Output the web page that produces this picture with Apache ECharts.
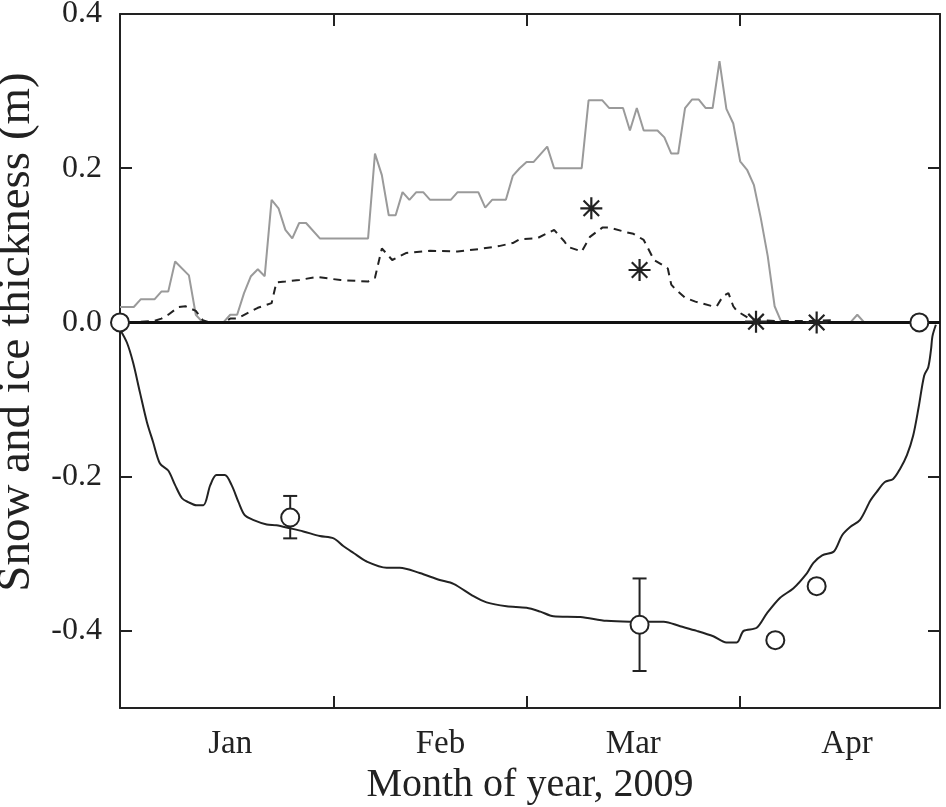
<!DOCTYPE html>
<html>
<head>
<meta charset="utf-8">
<script src="https://cdn.jsdelivr.net/npm/echarts@6/dist/echarts.min.js"></script>
<style>
  html, body { margin: 0; padding: 0; background: #fff; }
  #chart { width: 946px; height: 807px; }
</style>
</head>
<body>
<div id="chart"></div>
<script>
// day 0 = 1 Jan 2009
const monthStarts = [31, 59, 90];
const monthNames = ["Jan", "Feb", "Mar", "Apr"];
const monthLabelDays = [16, 46.5, 74.5, 105.5];
const yTicks = [-0.4, -0.2, 0, 0.2, 0.4];

// snow depth (grey)
const snowDepth = [
    [0, 0.02], [2, 0.02], [3, 0.03], [5, 0.03], [6, 0.04], [7, 0.04], [8, 0.079], [10, 0.061],
    [11, 0.01], [12, 0], [15, 0], [16, 0.01], [17, 0.01], [18, 0.038], [19, 0.06], [20, 0.069],
    [21, 0.06], [22, 0.159], [23, 0.148], [24, 0.12], [25, 0.109], [26, 0.129], [27, 0.129],
    [29, 0.109], [36, 0.109], [37, 0.219], [38, 0.191], [39, 0.139], [40, 0.139], [41, 0.169],
    [42, 0.159], [43, 0.169], [44, 0.169], [45, 0.159], [48, 0.159], [49, 0.169], [52, 0.169],
    [53, 0.149], [54, 0.159], [56, 0.159], [57, 0.19], [58, 0.2], [59, 0.208], [60, 0.208],
    [62, 0.228], [63, 0.2], [67, 0.2], [68, 0.288], [70, 0.288], [71, 0.278], [73, 0.278],
    [74, 0.249], [75, 0.278], [76, 0.249], [78, 0.249], [79, 0.24], [80, 0.219], [81, 0.219],
    [82, 0.278], [83, 0.289], [84, 0.289], [85, 0.278], [86, 0.278], [87, 0.339], [88, 0.277],
    [89, 0.258], [90, 0.209], [91, 0.198], [92, 0.178], [93, 0.135], [94, 0.086], [95, 0.021],
    [96, 0], [106, 0], [107, 0.01], [108, 0], [110, 0]
];

// snow ice (dashed)
const snowIce = [
    [1, 0], [5, 0.002], [6, 0.005], [7, 0.01], [8.5, 0.02], [9.5, 0.021], [11, 0.015], [12, 0.003],
    [13, 0], [15, 0], [16, 0.005], [17, 0.005], [18.5, 0.012], [20, 0.019], [22, 0.025],
    [22.7, 0.052], [24, 0.053], [26, 0.055], [28.5, 0.059], [32, 0.055], [36, 0.053], [37, 0.058],
    [38, 0.096], [39.5, 0.081], [41.5, 0.09], [45, 0.093], [49, 0.092], [52, 0.095], [55, 0.099],
    [57, 0.103], [58, 0.108], [60.5, 0.109], [63, 0.12], [64.5, 0.105], [65, 0.098], [67, 0.092],
    [68.2, 0.111], [70, 0.123], [71, 0.123], [73.5, 0.117], [74.5, 0.115], [76, 0.107],
    [77.5, 0.081], [79, 0.073], [79.5, 0.07], [80, 0.049], [80.5, 0.044], [82, 0.032],
    [83.5, 0.027], [86, 0.021], [86.6, 0.021], [87.5, 0.034], [88.3, 0.038], [89, 0.021],
    [89.5, 0.015], [91.5, 0.004], [95, 0.002], [100, 0.002], [103.3, 0.003]
];

// ice thickness, plotted downward
const iceThickness = [
    [0, -0.009], [1, -0.026], [1.9, -0.052], [2.9, -0.091], [3.9, -0.129], [4.8, -0.155],
    [5.8, -0.183], [7, -0.192], [8, -0.211], [9, -0.228], [9.9, -0.233], [11.1, -0.237],
    [12.1, -0.237], [13.1, -0.211], [14, -0.198], [15.2, -0.198], [16.2, -0.211], [17.2, -0.233],
    [18.1, -0.25], [19.3, -0.256], [21.3, -0.262], [22.7, -0.263], [24.7, -0.267], [26.6, -0.271],
    [29, -0.277], [31, -0.28], [32.4, -0.29], [33.9, -0.299], [35.8, -0.31], [38.7, -0.318],
    [40.6, -0.318], [43.5, -0.325], [46.4, -0.334], [48.4, -0.339], [51.3, -0.355], [53.2, -0.363],
    [56.1, -0.368], [59, -0.37], [61, -0.375], [62.9, -0.381], [66.8, -0.382], [70.6, -0.387],
    [74, -0.388], [78.9, -0.388], [81.3, -0.394], [83.7, -0.4], [86.1, -0.407], [88, -0.415],
    [89.5, -0.415], [90.5, -0.4], [92.4, -0.396], [93.9, -0.377], [95.8, -0.357], [97.7, -0.345],
    [99.7, -0.325], [100.6, -0.312], [101.9, -0.302], [103.6, -0.297], [104.8, -0.276],
    [106, -0.265], [107.4, -0.256], [108.9, -0.231], [109.8, -0.22], [111, -0.207],
    [112.2, -0.203], [113.2, -0.19], [114.2, -0.172], [115.1, -0.147], [115.9, -0.11],
    [116.7, -0.069], [117.3, -0.058], [117.7, -0.035], [117.9, -0.018], [118.4, -0.003]
];

// measured ice (circles) and snow-ice (asterisks)
const iceMeasured = [[0, 0], [24.7, -0.253], [75.4, -0.392], [95.1, -0.412], [101.1, -0.342], [116, 0]];
const iceErrorBars = [[24.7, -0.28, -0.225], [75.4, -0.452, -0.332]];
const snowIceMeasured = [[68.4, 0.148], [75.4, 0.068], [92.3, 0.001], [101.1, 0]];

const ink = "#222";
const font = "Liberation Serif";
const asterisk = "path://M10,0 L10,20 M0,10 L20,10 M2.93,2.93 L17.07,17.07 M2.93,17.07 L17.07,2.93";

const chart = echarts.init(document.getElementById("chart"));

function boxAxis(extra) {
    return Object.assign({
        axisLine: { show: true, onZero: false, lineStyle: { color: ink, width: 2 } },
        axisTick: { show: true, inside: true, length: 12, lineStyle: { color: ink, width: 2 } },
        splitLine: { show: false },
    }, extra);
}

chart.setOption({
    animation: false,
    backgroundColor: "#fff",
    grid: { left: 120, right: 6, top: 14, bottom: 99, containLabel: false, outerBoundsMode: "none" },
    xAxis: [
        boxAxis({
            type: "value", min: 0, max: 119, position: "bottom",
            axisTick: { show: true, inside: true, length: 12, customValues: monthStarts, lineStyle: { color: ink, width: 2 } },
            axisLabel: {
                customValues: monthLabelDays, margin: 20, color: ink, fontFamily: font, fontSize: 33,
                formatter: (v) => monthNames[monthLabelDays.indexOf(v)] || "",
            },
            name: "Month of year, 2009", nameLocation: "middle", nameGap: 56,
            nameTextStyle: { color: ink, fontFamily: font, fontSize: 40 },
        }),
        boxAxis({
            type: "value", min: 0, max: 119, position: "top",
            axisTick: { show: true, inside: true, length: 12, customValues: monthStarts, lineStyle: { color: ink, width: 2 } },
            axisLabel: { show: false },
        }),
    ],
    yAxis: [
        boxAxis({
            type: "value", min: -0.5, max: 0.4, position: "left",
            axisTick: { show: true, inside: true, length: 12, customValues: yTicks, lineStyle: { color: ink, width: 2 } },
            axisLabel: {
                customValues: yTicks, margin: 18, color: ink, fontFamily: font, fontSize: 32,
                formatter: (v) => v.toFixed(1),
            },
            name: "Snow and ice thickness (m)", nameLocation: "middle", nameGap: 72, nameRotate: 90,
            nameTextStyle: { color: ink, fontFamily: font, fontSize: 47, padding: [0, 0, 0, 58] },
        }),
        boxAxis({
            type: "value", min: -0.5, max: 0.4, position: "right",
            axisTick: { show: true, inside: true, length: 12, customValues: yTicks, lineStyle: { color: ink, width: 2 } },
            axisLabel: { show: false },
        }),
    ],
    series: [
        {
            name: "snow depth", type: "line", data: snowDepth, showSymbol: false,
            lineStyle: { color: "#9a9a9a", width: 2 }, z: 2,
        },
        {
            name: "snow ice", type: "line", data: snowIce, showSymbol: false,
            lineStyle: { color: ink, width: 2, type: [8, 6] }, z: 3,
        },
        {
            name: "ice thickness", type: "line", data: iceThickness, showSymbol: false, smooth: 0.3,
            lineStyle: { color: ink, width: 2 }, z: 3,
            markLine: {
                silent: true, symbol: "none", label: { show: false },
                lineStyle: { color: "#111", width: 3, type: "solid" },
                data: [{ yAxis: 0 }],
            },
        },
        {
            name: "error bars", type: "custom", data: iceErrorBars, z: 4,
            renderItem(params, api) {
                const lo = api.coord([api.value(0), api.value(1)]);
                const hi = api.coord([api.value(0), api.value(2)]);
                const cap = 7;
                const style = { stroke: ink, lineWidth: 2 };
                return {
                    type: "group",
                    children: [
                        { type: "line", shape: { x1: lo[0], y1: lo[1], x2: hi[0], y2: hi[1] }, style },
                        { type: "line", shape: { x1: lo[0] - cap, y1: lo[1], x2: lo[0] + cap, y2: lo[1] }, style },
                        { type: "line", shape: { x1: hi[0] - cap, y1: hi[1], x2: hi[0] + cap, y2: hi[1] }, style },
                    ],
                };
            },
        },
        {
            name: "ice measured", type: "scatter", data: iceMeasured, symbol: "circle", symbolSize: 18,
            clip: false, z: 5,
            itemStyle: { color: "#fff", borderColor: ink, borderWidth: 2, opacity: 1 },
        },
        {
            name: "snow ice measured", type: "scatter", data: snowIceMeasured, symbol: asterisk, symbolSize: 22,
            clip: false, z: 5,
            itemStyle: { color: "none", borderColor: ink, borderWidth: 2.2, opacity: 1 },
        },
    ],
});

window.addEventListener("resize", () => chart.resize());
</script>
</body>
</html>
